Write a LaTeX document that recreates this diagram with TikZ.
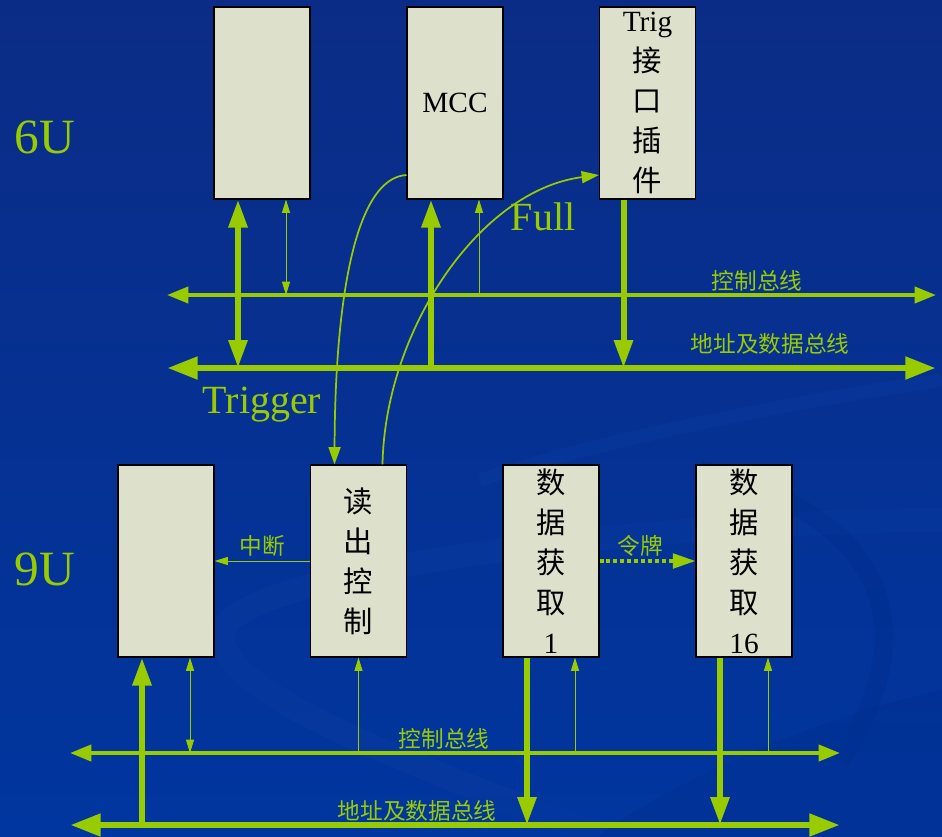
\documentclass[tikz,border=0pt]{standalone}
\usepackage{fontspec}
\setmainfont{Liberation Serif}
\newfontfamily\cjk{Noto Sans CJK SC}
\usetikzlibrary{arrows.meta}
\definecolor{grn}{HTML}{99CC00}
\definecolor{boxfill}{HTML}{DDE1CC}
\definecolor{bgtop}{HTML}{0B2C86}
\definecolor{bgbot}{HTML}{00369F}
\definecolor{swirl}{HTML}{0A3A9E}
\definecolor{swirldk}{HTML}{002E8E}
\tikzset{
  fathead/.tip={Triangle[length=21pt,width=13.5pt]},
  slimhead/.tip={Triangle[length=10pt,width=6pt]}
}
\begin{document}
\begin{tikzpicture}[x=0.75pt,y=-0.75pt,
  card/.style={draw=black, line width=0.8pt, fill=boxfill, minimum width=72pt,
    minimum height=144pt, inner sep=0pt, align=center,
    font=\fontsize{22}{30}\selectfont},
  cjkcard/.style={card, font=\cjk\fontsize{22}{30}\selectfont},
  lbl/.style={text=grn, inner sep=0pt, font=\cjk\fontsize{17}{20}\selectfont},
  big/.style={text=grn, inner sep=0pt, font=\fontsize{30}{34}\selectfont},
  unit/.style={text=grn, inner sep=0pt, font=\fontsize{37}{40}\selectfont},
  abus/.style={grn, line width=5pt, {Triangle[length=23pt,width=16pt]}-{Triangle[length=23pt,width=16pt]}},
  cbus/.style={grn, line width=3pt, {Triangle[length=16pt,width=12pt]}-{Triangle[length=16pt,width=12pt]}},
  fat/.style={grn, line width=4.5pt},
  slim/.style={grn, line width=0.75pt},
  curve/.style={grn, line width=1.3pt, -{Triangle[length=13pt,width=9pt]}},
  token/.style={grn, line width=2.5pt, dash pattern=on 3pt off 2.2pt, -{Triangle[length=17pt,width=11pt]}}
]
\useasboundingbox (0,0) rectangle (942,836);
% background
\shade[top color=bgtop, bottom color=bgbot] (0,0) rectangle (942,836);
\fill[swirldk, opacity=0.4] (942,690) .. controls (800,720) and (640,800) .. (600,836) -- (942,836) -- cycle;
\draw[swirl, line width=18pt, opacity=0.45] (942,520) .. controls (700,520) and (300,560) .. (230,620) .. controls (180,680) and (400,760) .. (600,836);
\draw[swirldk, line width=14pt, opacity=0.45] (700,470) .. controls (900,520) and (920,640) .. (840,760);
\draw[swirl, line width=10pt, opacity=0.4] (942,380) .. controls (800,400) and (600,440) .. (480,480);

% boxes
\node[card] (A) at (262,103) {};
\node[card] (M) at (455,103) {MCC};
\node[cjkcard] (T) at (647.5,103) {{\rmfamily Trig}\\接\\口\\插\\件};
\node[card] (B) at (166,561) {};
\node[cjkcard] (R) at (358.5,561) {读\\出\\控\\制};
\node[cjkcard] (D1) at (551,561) {数\\据\\获\\取\\{\rmfamily 1}};
\node[cjkcard] (D16) at (744,561) {数\\据\\获\\取\\{\rmfamily 16}};

% labels
\node[unit] (u6) at (45,137) {6U};
\node[unit] (u9) at (45,569) {9U};
\node[big] (trg) at (262,405) {Trigger};
\node[big] (full) at (543,217) {Full};
\node[lbl] (l1) at (757,281) {控制总线};
\node[lbl] (l2) at (770,344) {地址及数据总线};
\node[lbl] (l3) at (444,739) {控制总线};
\node[lbl] (l4) at (417,811) {地址及数据总线};
\node[lbl] (l5) at (262,546) {中断};
\node[lbl] (l6) at (640,546) {令牌};

% buses
\coordinate (tcL) at (167,295); \coordinate (tcR) at (936,295);
\coordinate (taL) at (167,368); \coordinate (taR) at (936,368);
\coordinate (bcL) at (70,753);  \coordinate (bcR) at (840,753);
\coordinate (baL) at (70,825);  \coordinate (baR) at (840,825);
\draw[cbus] (tcL) -- (tcR);
\draw[abus] (taL) -- (taR);
\draw[cbus] (bcL) -- (bcR);
\draw[abus] (baL) -- (baR);

% anchor points on boxes
\coordinate (a1) at ([xshift=-18pt]A.south);
\coordinate (a2) at ([xshift=18pt]A.south);
\coordinate (m1) at ([xshift=-18pt]M.south);
\coordinate (m2) at ([xshift=18pt]M.south);
\coordinate (t1) at ([xshift=-18pt]T.south);
\coordinate (b1) at ([xshift=-18pt]B.south);
\coordinate (b2) at ([xshift=18pt]B.south);
\coordinate (r0) at (R.south);
\coordinate (d1) at ([xshift=-18pt]D1.south);
\coordinate (d2) at ([xshift=18pt]D1.south);
\coordinate (e1) at ([xshift=-18pt]D16.south);
\coordinate (e2) at ([xshift=18pt]D16.south);

% top verticals
\draw[fat, fathead-fathead] (a1) -- (a1 |- taL);
\draw[slim, slimhead-slimhead] (a2) -- (a2 |- tcL);
\draw[fat, -fathead] (m1 |- taL) -- (m1);
\draw[slim, -slimhead] (m2 |- tcL) -- (m2);
\draw[fat, -fathead] (t1) -- (t1 |- taL);

% bottom verticals
\draw[fat, -fathead] (b1 |- baL) -- (b1);
\draw[slim, slimhead-slimhead] (b2) -- (b2 |- bcL);
\draw[slim, -slimhead] (r0 |- bcL) -- (r0);
\draw[fat, -fathead] (d1) -- (d1 |- baL);
\draw[slim, -slimhead] (d2 |- bcL) -- (d2);
\draw[fat, -fathead] (e1) -- (e1 |- baL);
\draw[slim, -slimhead] (e2 |- bcL) -- (e2);

% curves between crates
\coordinate (mc) at ([yshift=-54pt]M.west);
\coordinate (tc) at ([yshift=-54pt]T.west);
\coordinate (rn1) at ([xshift=-18pt]R.north);
\coordinate (rn2) at ([xshift=18pt]R.north);
\draw[curve] (mc) .. controls (355,178) and (335,300) .. (rn1);
\draw[curve] (rn2) .. controls (385,330) and (480,190) .. (tc);

% horizontal signals
\draw[slim, -slimhead] (R.west) -- (B.east);
\draw[token] (D1.east) -- (D16.west);
\end{tikzpicture}
\end{document}
